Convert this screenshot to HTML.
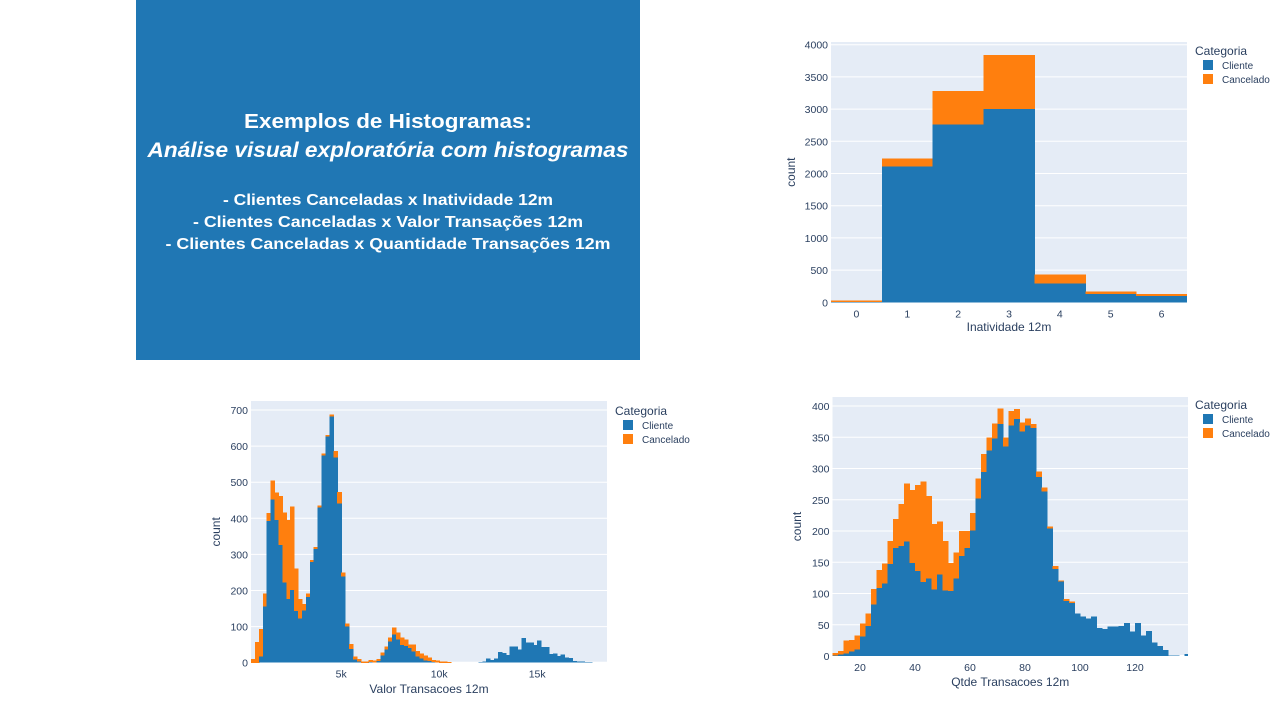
<!DOCTYPE html>
<html><head><meta charset="utf-8">
<style>
body{margin:0;width:1280px;height:720px;background:#fff;overflow:hidden;font-family:"Liberation Sans",sans-serif}
svg{position:absolute;left:0;top:0}
</style></head>
<body>
<svg id="s" width="1280" height="720">
  <rect x="136" y="0" width="504" height="360" fill="#2077b4"/>
  <g fill="#fff" font-weight="bold" text-anchor="middle" font-family="Liberation Sans, sans-serif">
    <text x="388" y="128" font-size="20" textLength="288" lengthAdjust="spacingAndGlyphs">Exemplos de Histogramas:</text>
    <text x="388" y="157" font-size="21" font-style="italic" textLength="481" lengthAdjust="spacingAndGlyphs">Análise visual exploratória com histogramas</text>
    <text x="388" y="205" font-size="16" textLength="330" lengthAdjust="spacingAndGlyphs">- Clientes Canceladas x Inatividade 12m</text>
    <text x="388" y="227" font-size="16" textLength="390" lengthAdjust="spacingAndGlyphs">- Clientes Canceladas x Valor Transações 12m</text>
    <text x="388" y="249" font-size="16" textLength="445" lengthAdjust="spacingAndGlyphs">- Clientes Canceladas x Quantidade Transações 12m</text>
  </g>
</svg>
<script>
// Chart 1: Inatividade 12m
const inatCats = [0,1,2,3,4,5,6];
const inatCliente = [15,2120,2770,3010,300,135,105];
const inatCancelado = [15,110,510,830,130,35,25];
const inatYTicks = [0,500,1000,1500,2000,2500,3000,3500,4000];
const inatXTicks = [0,1,2,3,4,5,6];
// Chart 2: Valor Transacoes 12m (bins of 200 starting at 400)
const valorBinStart = 400;
const valorBinWidth = 200;
const valorCliente = [0,0,18,157,394,454,397,328,224,178,203,144,124,146,183,281,316,431,575,628,683,570,442,240,102,40,10,5,0,0,3,2,6,22,38,60,80,65,50,48,42,32,18,13,8,6,3,2,1,0,0,0,0,0,1,1,0,1,2,3,12,8,12,29,27,22,45,45,36,68,56,56,49,62,43,43,24,25,19,23,15,13,5,4,3,2,2,1,0,1,1];
const valorCancelado = [10,58,76,34,20,51,75,134,192,217,230,117,53,16,9,4,4,4,5,3,4,16,31,10,7,12,7,5,3,3,5,4,4,6,7,10,17,19,20,16,8,19,15,12,12,8,4,4,3,4,2,0,0,0,0,0,0,0,0,0,0,0,0,0,0,0,0,0,0,0,0,0,0,0,0,0,0,0,0,0,0,0,0,0,0,0,0,0,0,0,0];
const valorYTicks = [0,100,200,300,400,500,600,700];
const valorXTicks = [5000,10000,15000];
const valorXTickLabels = ["5k","10k","15k"];
// Chart 3: Qtde Transacoes 12m (bins of 2 starting at 10)
const qtdeBinStart = 10;
const qtdeBinWidth = 2;
const qtdeCliente = [2,3,5,8,11,32,49,83,110,117,148,174,177,184,150,137,119,125,107,131,106,105,125,161,174,202,253,295,330,349,372,336,370,380,360,370,366,287,264,205,140,120,89,86,68,63,60,63,45,43,47,47,48,53,39,53,33,40,22,16,10,1,1,0,3];
const qtdeCancelado = [3,5,20,18,22,20,19,24,28,31,36,45,66,92,116,137,160,131,104,84,78,44,41,39,26,27,31,28,20,23,24,14,22,15,14,10,5,8,6,2,4,1,2,1,0,0,0,0,0,0,0,0,0,0,0,0,0,0,0,0,0,0,0,0,0];
const qtdeYTicks = [0,50,100,150,200,250,300,350,400];
const qtdeXTicks = [20,40,60,80,100,120];

const NS="http://www.w3.org/2000/svg";
const svg=document.getElementById('s');
function mk(tag,attrs,parent){const e=document.createElementNS(NS,tag);for(const k in attrs)e.setAttribute(k,attrs[k]);(parent||svg).appendChild(e);return e;}

function chart(cfg){
  const g=mk('g',{});
  
  
  const X=v=>cfg.px0+(v-cfg.x0)*cfg.sx;
  const Y=v=>cfg.py0-(v)*cfg.sy;
  const bg=mk('rect',{x:cfg.L,y:cfg.T,width:cfg.R-cfg.L,height:cfg.py0-cfg.T,fill:'#e5ecf6'},g);
  
  
  cfg.yt.forEach(t=>{
    const yy=Y(t);
    const ln=mk('line',{x1:cfg.L,x2:cfg.R,y1:yy,y2:yy,stroke:'#fff','stroke-width':t===0?2:1},g);
    
    
    const tx=mk('text',{x:cfg.L-3,y:yy+4,'text-anchor':'end','font-size':10.5,fill:'#2a3f5f'},g);
    tx.textContent=t;
    
    
  });
  const bars=mk('g',{'shape-rendering':'crispEdges'},g);
  
  
  const n=cfg.cl.length;
  for(let i=0;i<n;i++){
    const a=X(cfg.start+i*cfg.w), b=X(cfg.start+(i+1)*cfg.w);
    if(a>=cfg.R) break;
    const bb=Math.min(b+0.6,cfg.R);
    const c=cfg.cl[i], k=cfg.ca[i];
    if(c>0){
      const r=mk('rect',{x:a,y:Y(c),width:bb-a,height:Y(0)-Y(c),fill:'#1f77b4'},bars);
      
      
    }
    if(k>0){
      const r=mk('rect',{x:a,y:Y(c+k),width:bb-a,height:Y(c)-Y(c+k)+0.5,fill:'#ff7f0e'},bars);
      
      
    }
  }
  cfg.xt.forEach((t,i)=>{
    const tx=mk('text',{x:X(t),y:cfg.py0+15,'text-anchor':'middle','font-size':10.5,fill:'#2a3f5f'},g);
    tx.textContent=cfg.xl?cfg.xl[i]:t;
    
    
  });
  const xt=mk('text',{x:(cfg.L+cfg.R)/2,y:cfg.xty,'text-anchor':'middle','font-size':12,fill:'#2a3f5f'},g);
  xt.textContent=cfg.xtitle;
  
  
  const cy=(cfg.T+cfg.py0)/2;
  const yt=mk('text',{x:cfg.ytx,y:cy,'text-anchor':'middle','font-size':12,fill:'#2a3f5f',transform:`rotate(-90 ${cfg.ytx} ${cy})`},g);
  yt.textContent='count';
  
  
  const lt=mk('text',{x:cfg.lx,y:cfg.ly,'font-size':12,fill:'#2a3f5f'},g);
  lt.textContent='Categoria';
  
  
  [['Cliente','#1f77b4'],['Cancelado','#ff7f0e']].forEach((e,i)=>{
    const yy=cfg.ly+14+i*14;
    const sw=mk('rect',{x:cfg.lx+8,y:yy-9,width:10,height:10,fill:e[1]},g);
    
    
    const et=mk('text',{x:cfg.lx+27,y:yy,'font-size':10,fill:'#2a3f5f'},g);
    et.textContent=e[0];
    
    
  });
}

chart({name:'chart-inatividade',L:831,R:1187,T:42,py0:302.3,sy:(302.3-44.7)/4000,x0:-0.5,px0:831,sx:(1187-831)/7,
  start:-0.5,w:1,cl:inatCliente,ca:inatCancelado,yt:inatYTicks,xt:inatXTicks,xtitle:'Inatividade 12m',xty:331,ytx:795,lx:1195,ly:55});
chart({name:'chart-valor-transacoes',L:251,R:607,T:401,py0:662.7,sy:(662.7-410)/700,x0:400,px0:251,sx:0.0196,
  start:valorBinStart,w:valorBinWidth,cl:valorCliente,ca:valorCancelado,yt:valorYTicks,xt:valorXTicks,xl:valorXTickLabels,xtitle:'Valor Transacoes 12m',xty:693,ytx:220,lx:615,ly:415});
chart({name:'chart-qtde-transacoes',L:832.5,R:1188,T:397,py0:656,sy:250/400,x0:10,px0:832.5,sx:2.75,
  start:qtdeBinStart,w:qtdeBinWidth,cl:qtdeCliente,ca:qtdeCancelado,yt:qtdeYTicks,xt:qtdeXTicks,xtitle:'Qtde Transacoes 12m',xty:686,ytx:801,lx:1195,ly:409});
</script>
</body></html>
